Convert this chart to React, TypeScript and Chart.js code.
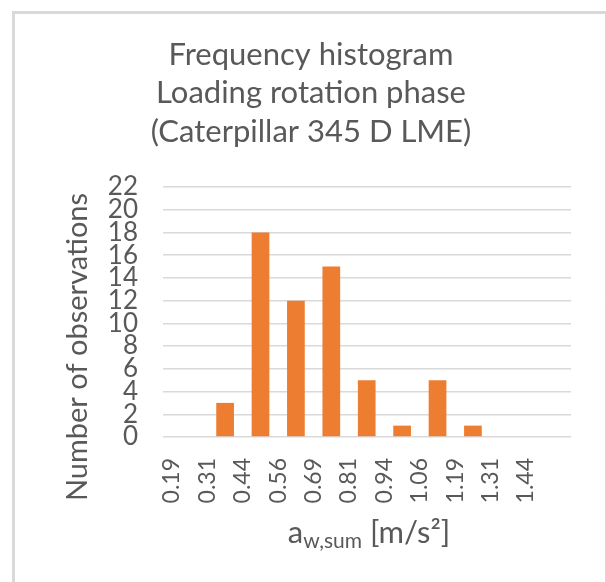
import React, { useEffect, useRef } from "react";
import { Chart, registerables } from "chart.js";

Chart.register(...registerables);

// ---- data ----
const binLabels = ["0.19", "0.31", "0.44", "0.56", "0.69", "0.81", "0.94", "1.06", "1.19", "1.31", "1.44"];
const counts = [0, 3, 18, 12, 15, 5, 1, 5, 1, 0, 0];
const titleLines = ["Frequency histogram", "Loading rotation phase", "(Caterpillar 345 D LME)"];
const yTitle = "Number of observations";
const xTitleMain = "a";
const xTitleSub = "w,sum";
const xTitleUnit = " [m/s²]";
const yMin = 0;
const yMax = 22;
const yStep = 2;

const TEXT = "#595959";
const FONT = "Lato, 'Open Sans', sans-serif";

const decorPlugin = {
  id: "decor",
  beforeDraw(chart: any) {
    const ctx = chart.ctx;
    ctx.save();
    ctx.fillStyle = "#ffffff";
    ctx.fillRect(0, 0, chart.width, chart.height);
    ctx.strokeStyle = "#d9d9d9";
    ctx.lineWidth = 3;
    ctx.beginPath();
    ctx.moveTo(13.5, chart.height);
    ctx.lineTo(13.5, 12.5);
    ctx.lineTo(chart.width, 12.5);
    ctx.stroke();
    ctx.lineWidth = 1;
    ctx.beginPath();
    ctx.moveTo(605.5, 12.5);
    ctx.lineTo(605.5, chart.height);
    ctx.stroke();
    ctx.restore();
  },
  afterDraw(chart: any) {
    const ctx = chart.ctx;
    ctx.save();
    ctx.fillStyle = TEXT;
    // title
    ctx.font = `31px ${FONT}`;
    ctx.textAlign = "center";
    ctx.textBaseline = "alphabetic";
    const baselines = [65, 103, 142];
    titleLines.forEach((t, i) => ctx.fillText(t, 311, baselines[i]));
    // y title
    ctx.save();
    ctx.translate(87, 347);
    ctx.rotate(-Math.PI / 2);
    ctx.font = `29px ${FONT}`;
    ctx.textAlign = "center";
    ctx.fillText(yTitle, 0, 0);
    ctx.restore();
    // x title
    const mainFont = `31px ${FONT}`;
    const subFont = `21px ${FONT}`;
    ctx.textAlign = "left";
    ctx.font = mainFont;
    const wA = ctx.measureText(xTitleMain).width;
    const wU = ctx.measureText(xTitleUnit).width;
    ctx.font = subFont;
    const wS = ctx.measureText(xTitleSub).width;
    const total = wA + wS + wU;
    let x = 369 - total / 2;
    const base = 543;
    ctx.font = mainFont;
    ctx.fillText(xTitleMain, x, base);
    x += wA;
    ctx.font = subFont;
    ctx.fillText(xTitleSub, x, base + 5);
    x += wS;
    ctx.font = mainFont;
    ctx.fillText(xTitleUnit, x, base);
    ctx.restore();
  },
};

export default function App() {
  const ref = useRef<HTMLCanvasElement | null>(null);
  useEffect(() => {
    if (!ref.current) return;
    const chart = new Chart(ref.current, {
      type: "bar",
      data: {
        datasets: [
          {
            data: counts.map((c, i) => ({ x: i + 0.5, y: c })),
            backgroundColor: "#ED7D31",
            borderWidth: 0,
            barPercentage: 0.5,
            categoryPercentage: 1,
          },
        ],
      },
      options: {
        responsive: false,
        animation: false,
        maintainAspectRatio: false,
        layout: { padding: { top: 187, right: 35, left: 0, bottom: 0 } },
        plugins: {
          legend: { display: false },
          title: { display: false },
          tooltip: { enabled: false },
        },
        scales: {
          x: {
            type: "linear",
            offset: false,
            min: -0.254,
            max: 11.27,
            afterBuildTicks: (scale: any) => {
              scale.ticks = binLabels.map((_, i) => ({ value: i }));
            },
            afterFit: (scale: any) => {
              scale.height = 145;
            },
            ticks: {
              autoSkip: false,
              minRotation: 90,
              maxRotation: 90,
              padding: 21,
              color: TEXT,
              font: { family: FONT, size: 23 },
              callback: (_v: any, i: number) => binLabels[i],
            },
            grid: { display: false, drawTicks: false, offset: false },
            border: { display: false },
          },
          y: {
            min: yMin,
            max: yMax,
            afterFit: (scale: any) => {
              scale.width = 163;
            },
            ticks: {
              stepSize: yStep,
              autoSkip: false,
              padding: 25,
              color: TEXT,
              font: { family: FONT, size: 26 },
            },
            grid: { color: "#d9d9d9", lineWidth: 1.5, drawTicks: false },
            border: { display: false },
          },
        },
      },
      plugins: [decorPlugin],
    } as any);
    return () => chart.destroy();
  }, []);
  return (
    <div style={{ position: "absolute", left: 0, top: 0, width: 606, height: 582 }}>
      <canvas ref={ref} width={606} height={582} style={{ width: 606, height: 582, display: "block" }} />
    </div>
  );
}
